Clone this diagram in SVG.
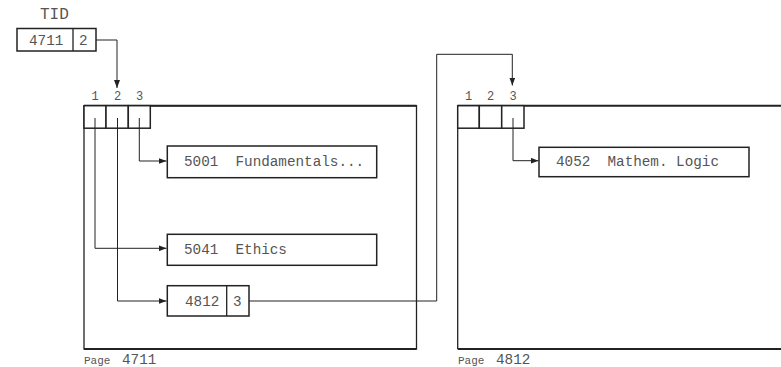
<svg xmlns="http://www.w3.org/2000/svg" width="781" height="367" viewBox="0 0 781 367">
<defs>
<style>
.t{font-family:"Liberation Mono","DejaVu Sans Mono",monospace;fill:#555;font-size:14.3px;white-space:pre}
.s{font-size:12px}
.box{fill:#fff;stroke:#222;stroke-width:1.5}
.pg{fill:none;stroke:#222;stroke-width:1.3}
.edge{fill:none;stroke:#222;stroke-width:2}
.c{fill:none;stroke:#222;stroke-width:1}
</style>
<marker id="ah" viewBox="0 0 8 6" refX="8" refY="3" markerWidth="8" markerHeight="6" markerUnits="userSpaceOnUse" orient="auto">
<path d="M0,0 L8,3 L0,6 z" fill="#222"/>
</marker>
</defs>
<rect width="781" height="367" fill="#fff"/>

<g id="tid">
<text class="t" x="40" y="19" style="font-size:16px">TID</text>
<rect class="box" x="17" y="28.5" width="79" height="22.5"/>
<line class="c" x1="73" y1="28.5" x2="73" y2="51" style="stroke-width:1.3"/>
<text class="t" x="29" y="45">4711</text>
<text class="t" x="79" y="45">2</text>
</g>

<g id="page4711">
<rect class="pg" x="84" y="105.7" width="332.5" height="243.3"/>
<line class="edge" x1="84" y1="105.7" x2="416.5" y2="105.7"/>
<line class="edge" x1="84" y1="349" x2="416.5" y2="349"/>
<rect class="box" x="84" y="105.7" width="22" height="22.5"/>
<rect class="box" x="106" y="105.7" width="22.3" height="22.5"/>
<rect class="box" x="128.3" y="105.7" width="22" height="22.5"/>
<text class="t s" x="95" y="100" text-anchor="middle">1</text>
<text class="t s" x="117.5" y="100" text-anchor="middle">2</text>
<text class="t s" x="139.5" y="100" text-anchor="middle">3</text>
<text class="t" x="84" y="363.5" style="font-size:11px">Page</text>
<text class="t" x="122" y="363.5">4711</text>
</g>

<g id="rec5001">
<rect class="box" x="167.3" y="146" width="209.4" height="31.7"/>
<text class="t" x="184" y="166" xml:space="preserve">5001  Fundamentals...</text>
</g>

<g id="rec5041">
<rect class="box" x="167.3" y="234.3" width="209.4" height="31"/>
<text class="t" x="184" y="254" xml:space="preserve">5041  Ethics</text>
</g>

<g id="rec4812">
<rect class="box" x="167.3" y="285.7" width="81.7" height="30.3"/>
<line class="c" x1="226.7" y1="285.7" x2="226.7" y2="316" style="stroke-width:1.3"/>
<text class="t" x="185" y="305.5">4812</text>
<text class="t" x="233" y="305.5">3</text>
</g>

<g id="page4812">
<line class="c" x1="457.7" y1="105.7" x2="457.7" y2="349" style="stroke-width:1.3"/>
<line class="edge" x1="457.7" y1="105.7" x2="781" y2="105.7"/>
<line class="edge" x1="457.7" y1="349" x2="781" y2="349"/>
<rect class="box" x="457.7" y="105.7" width="21.6" height="22.5"/>
<rect class="box" x="479.3" y="105.7" width="22.4" height="22.5"/>
<rect class="box" x="501.7" y="105.7" width="22.3" height="22.5"/>
<text class="t s" x="468.5" y="100" text-anchor="middle">1</text>
<text class="t s" x="490.5" y="100" text-anchor="middle">2</text>
<text class="t s" x="513" y="100" text-anchor="middle">3</text>
<text class="t" x="458" y="363.5" style="font-size:11px">Page</text>
<text class="t" x="496" y="363.5">4812</text>
</g>

<g id="rec4052">
<rect class="box" x="539" y="147.3" width="210" height="29.4"/>
<text class="t" x="556" y="166" xml:space="preserve">4052  Mathem. Logic</text>
</g>

<g id="connectors">
<path class="c" d="M96,40 H117 V88" marker-end="url(#ah)"/>
<path class="c" d="M139.3,118 V161 H166.5" marker-end="url(#ah)"/>
<path class="c" d="M95,118 V248.3 H166.5" marker-end="url(#ah)"/>
<path class="c" d="M117.5,118 V301 H166.5" marker-end="url(#ah)"/>
<path class="c" d="M249,301 H436.7 V54.3 H512.3 V85.5" marker-end="url(#ah)"/>
<path class="c" d="M513,118 V160.7 H538.5" marker-end="url(#ah)"/>
</g>
</svg>
